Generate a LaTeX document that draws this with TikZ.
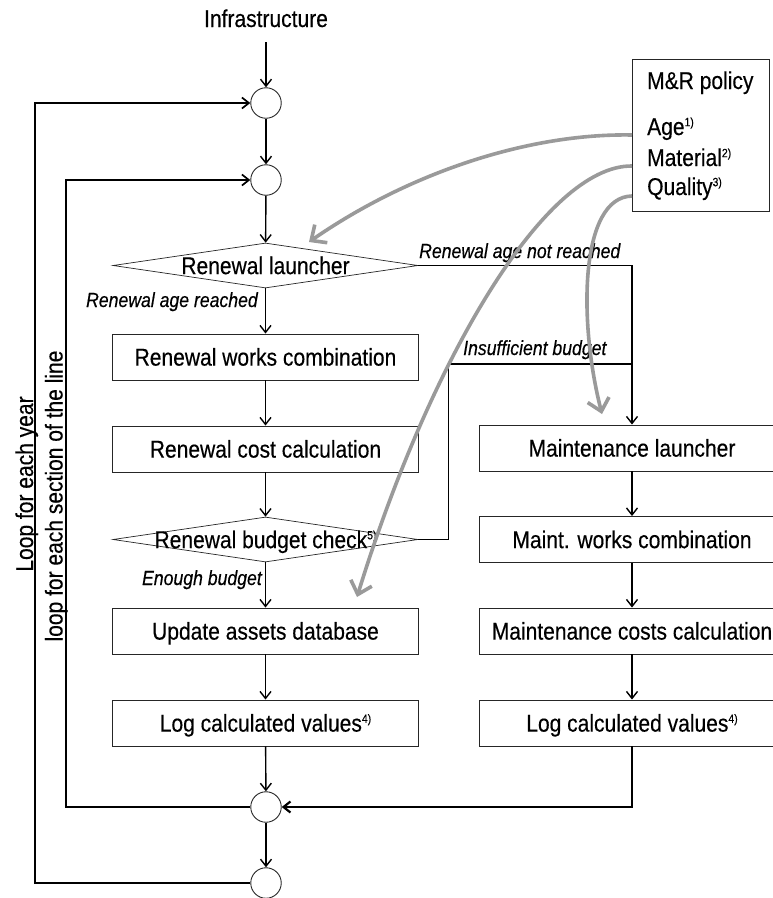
\documentclass[tikz,border=0pt]{standalone}
\usepackage{fontspec}
\setmainfont[FakeStretch=0.865,FakeBold=0.3]{Liberation Sans}
\usetikzlibrary{arrows.meta,shapes.geometric}

\definecolor{policygray}{HTML}{9A9A9A}
\newcommand\flowfont{\fontsize{24.3}{28}\selectfont}
\newcommand\notefont{\fontsize{20.4}{24}\selectfont\itshape}
% small raised footnote marks, top aligned with the capitals
\newcommand\fnmark[1]{\raisebox{8.8pt}{\fontsize{12}{12}\selectfont #1}}

\begin{document}
\begin{tikzpicture}[x=1pt,y=-1pt,
  box/.style={draw=black!85, line width=0.9pt, minimum width=306pt, minimum height=46pt,
              inner sep=0pt, font=\flowfont, text height=17.2pt, text depth=0pt},
  decision/.style={diamond, draw=black!85, line width=0.7pt, minimum width=305pt,
              minimum height=45pt, inner sep=0pt},
  decisiontext/.style={font=\flowfont, inner sep=0pt, text height=17.2pt, text depth=0pt},
  junction/.style={circle, draw=black!85, line width=0.9pt, minimum size=30.5pt, inner sep=0pt},
  flow/.style={line width=1.4pt, -{Straight Barb[length=7pt,width=11pt]}},
  plainflow/.style={line width=1.4pt},
  loopline/.style={line width=1.7pt},
  note/.style={font=\notefont, inner sep=0pt},
  influence/.style={policygray, line width=3.6pt,
              -{Straight Barb[length=12pt,width=22pt]}},
]
\clip (0,0) rectangle (773,898);
\fill[white] (0,0) rectangle (773,898);

% main column
\node[font=\flowfont, anchor=base, inner sep=0pt] (infra) at (266,27) {Infrastructure};
\node[junction] (j1) at (266,103) {};
\node[junction] (j2) at (266,180) {};
\node[decision] (rl) at (265.5,265.5) {};
\node[decisiontext] (rltext) at (rl) {Renewal launcher};
\node[box] (rwc) at (265.5,357) {Renewal works combination};
\node[box] (rcc) at (265.5,449) {Renewal cost calculation};
\node[decision] (rbc) at (265.5,539.5) {};
\node[decisiontext] (rbctext) at (rbc) {Renewal budget check\fnmark{5)}};
\node[box] (uad) at (265.5,631) {Update assets database};
\node[box] (lcv1) at (265.5,723) {Log calculated values\fnmark{4)}};
\node[junction] (j3) at (266,807) {};
\node[junction] (j4) at (266,883) {};

% maintenance column
\node[box] (ml) at (632,448) {Maintenance launcher};
\node[box] (mwc) at (632,539.5) {Maint. works combination};
\node[box] (mcc) at (632,631) {Maintenance costs calculation};
\node[box] (lcv2) at (632,723) {Log calculated values\fnmark{4)}};

% policy box
\node[draw=black!85, line width=0.9pt, minimum width=137pt, minimum height=152pt,
      inner sep=0pt] (policy) at (700.5,135) {};
\node[font=\flowfont, anchor=base west, inner sep=0pt] (ptitle) at (647,89) {M\&R policy};
\node[font=\flowfont, anchor=base west, inner sep=0pt] (page) at (647,135) {Age\fnmark{1)}};
\node[font=\flowfont, anchor=base west, inner sep=0pt] (pmat) at (647,166) {Material\fnmark{2)}};
\node[font=\flowfont, anchor=base west, inner sep=0pt] (pqual) at (647,195) {Quality\fnmark{3)}};

% loop labels
\node[font=\flowfont, rotate=90, anchor=base, inner sep=0pt] (yearloop) at (33,484) {Loop for each year};
\node[font=\flowfont, rotate=90, anchor=base, inner sep=0pt] (sectionloop) at (62.5,496) {loop for each section of the line};

% main flow
\draw[flow] ([yshift=-15pt]infra.base) -- (j1);
\draw[flow] (j1) -- (j2);
\draw[flow] (j2) -- (rl);
\draw[flow] (rl) -- (rwc);
\draw[flow] (rwc) -- (rcc);
\draw[flow] (rcc) -- (rbc);
\draw[flow] (rbc) -- (uad);
\draw[flow] (uad) -- (lcv1);
\draw[flow] (lcv1) -- (j3);
\draw[flow] (j3) -- (j4);

\draw[flow] (ml) -- (mwc);
\draw[flow] (mwc) -- (mcc);
\draw[flow] (mcc) -- (lcv2);

% branches
\coordinate (budgetjoin) at (632,364);
\draw[flow] (rl.east) -| (ml.north);
\draw[plainflow] (rbc.east) -- ++(30,0) |- (budgetjoin);
\draw[line width=2.2pt, -{Straight Barb[length=7pt,width=11pt]}] (lcv2.south) |- (j3.east);

% loops
\draw[loopline, -{Straight Barb[length=7pt,width=11pt]}] (j4.west) -- ++(-215,0) |- (j1.west);
\draw[loopline, -{Straight Barb[length=7pt,width=11pt]}] (j3.west) -- ++(-184,0) |- (j2.west);

% branch labels
\node[note, anchor=base east] (lreached) at (258,307) {Renewal age reached};
\node[note, anchor=base west] (lnotreached) at (419,258) {Renewal age not reached};
\node[note, anchor=base west] (linsuff) at (463,355) {Insufficient budget};
\node[note, anchor=base east] (lenough) at (262,585) {Enough budget};

% policy influences
\coordinate (ageport) at (632,135);
\coordinate (matport) at (632,166);
\coordinate (qualport) at (632,196);
\coordinate (agehit) at (309,242);
\coordinate (mathit) at (357,597);
\coordinate (qualhit) at (602,414);
\draw[influence] (ageport) .. controls (530,133) and (410,172) .. (agehit);
\draw[influence] (matport) .. controls (545,165) and (430,360) .. (mathit);
\draw[influence] (qualport) .. controls (580,197) and (578,320) .. (qualhit);
\end{tikzpicture}
\end{document}
